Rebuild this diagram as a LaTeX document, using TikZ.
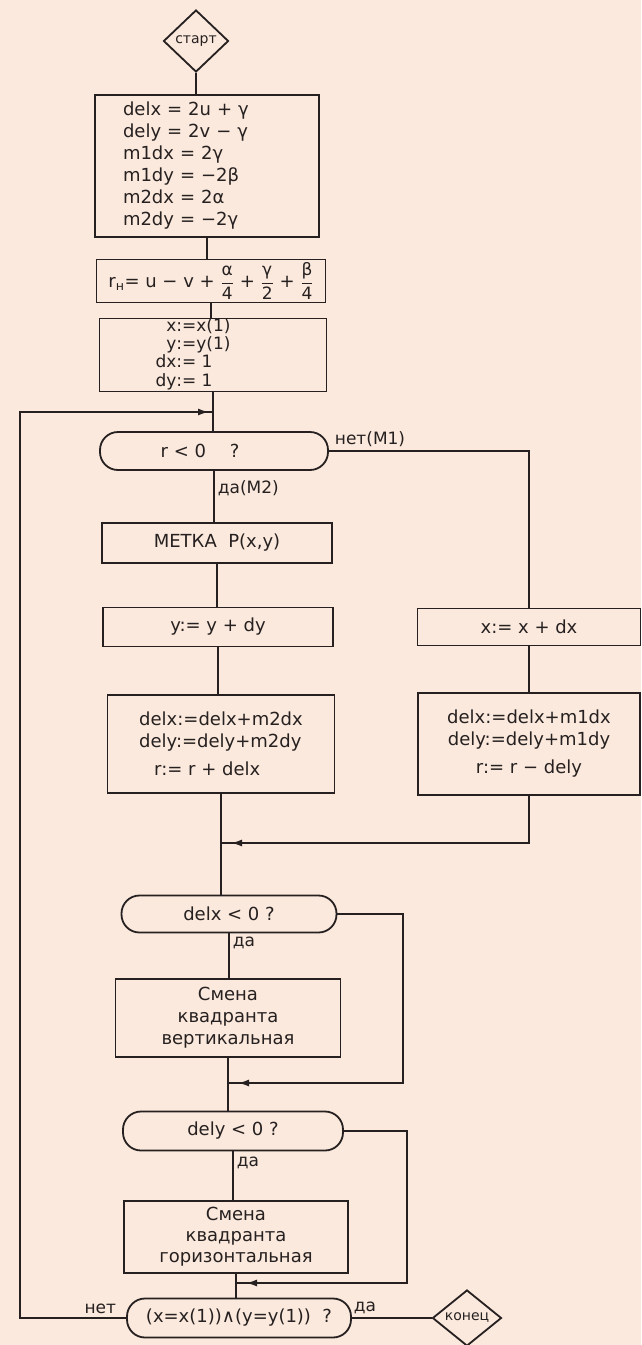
\documentclass[tikz,border=0pt]{standalone}
\usepackage{amsmath}
\usepackage{fontspec}
\setmainfont{DejaVu Sans}
\usepackage{tikz}
\usepackage{xcolor}
\usetikzlibrary{shapes.geometric,arrows.meta,decorations.markings}

\definecolor{bumaga}{RGB}{250,233,220}
\definecolor{tush}{RGB}{38,32,32}

\newcommand{\drob}[2]{$\dfrac{\hbox{\fontsize{17}{17}\selectfont #1}}{\hbox{\fontsize{17}{17}\selectfont #2}}$}

\begin{document}
\begin{tikzpicture}[
    x=1pt, y=-1pt,
    line width=1.8pt,
    color=tush,
    blok/.style={rectangle, draw, inner sep=0pt,
      font=\fontsize{18}{22}\selectfont},
    vopros/.style={rectangle, draw, rounded corners=18pt, inner sep=0pt,
      font=\fontsize{18}{22}\selectfont},
    romb/.style={diamond, draw, inner sep=0pt,
      font=\fontsize{14}{16}\selectfont},
    podpis/.style={inner sep=1pt, font=\fontsize{17}{20}\selectfont},
    strelka/.style={postaction={decorate},
      decoration={markings,
        mark=at position #1 with {\arrow{Latex[length=11pt,width=7pt]}}}}
  ]
\fill[bumaga] (0,0) rectangle (641,1345);
\useasboundingbox (0,0) rectangle (641,1345);

\node[romb, minimum width=65pt, minimum height=62pt] (start) at (196,41) {старт};
\node[blok, minimum width=224pt, minimum height=142pt,
      text width=168pt, align=left] (init) at (207,166)
{delx = 2u + γ\\dely = 2v − γ\\m1dx = 2γ\\m1dy = −2β\\m2dx = 2α\\m2dy = −2γ};
\node[blok, minimum width=229pt, minimum height=43pt] (rn) at (211,281)
{r\textsubscript{н}= u − v + \drob{α}{4} + \drob{γ}{2} + \drob{β}{4}};
\node[blok, minimum width=227pt, minimum height=73pt,
      font=\fontsize{17}{17.5}\selectfont] (nach) at (213,355)
{\begin{tabular}{@{}r@{}l@{}}x&:=x(1)\\y&:=y(1)\\dx&:= 1\\dy&:= 1\end{tabular}\hspace*{40pt}};

\node[vopros, minimum width=228pt, minimum height=38pt] (r0) at (214,451) {r < 0 \quad ?\hspace*{28pt}};
\node[blok, minimum width=230pt, minimum height=40pt] (metka) at (217,543) {МЕТКА \ P(x,y)};
\node[blok, minimum width=230pt, minimum height=39pt] (shagy) at (218,627) {y:= y + dy};
\node[blok, minimum width=223pt, minimum height=37pt] (shagx) at (529,627) {x:= x + dx};
\node[blok, minimum width=227pt, minimum height=98pt, align=left] (izmy) at (221,744)
{delx:=delx+m2dx\\dely:=dely+m2dy\\[6pt]\hspace*{15pt}r:= r + delx};
\node[blok, minimum width=222pt, minimum height=102pt, align=center] (izmx) at (529,744)
{delx:=delx+m1dx\\dely:=dely+m1dy\\[6pt]r:= r − dely};

\node[vopros, minimum width=215pt, minimum height=37pt] (dx0) at (229,914) {delx < 0 ?};
\node[blok, minimum width=225pt, minimum height=78pt, align=center] (vert) at (228,1018)
{Смена\\квадранта\\вертикальная};
\node[vopros, minimum width=220pt, minimum height=39pt] (dy0) at (233,1131) {dely < 0 ?};
\node[blok, minimum width=224pt, minimum height=72pt, align=center,
      font=\fontsize{18}{21}\selectfont] (gor) at (236,1237)
{Смена\\квадранта\\горизонтальная};
\node[vopros, minimum width=224pt, minimum height=39pt] (konpr) at (239,1318) {(x=x(1))∧(y=y(1)) \ ?};
\node[romb, minimum width=69pt, minimum height=56pt] (konec) at (467,1318) {конец};

\coordinate (petlya) at (20,412);
\coordinate (sl0) at (213,412);
\coordinate (sl1) at (221,843);
\coordinate (obh1) at (403,1083);
\coordinate (sl2) at (228,1083);
\coordinate (obh2) at (407,1283);
\coordinate (sl3) at (236,1283);

\draw (start.south) -- (start.south |- init.north);
\draw (init.south) -- (init.south |- rn.north);
\draw (rn.south) -- (rn.south |- nach.north);
\draw (nach.south) -- (nach.south |- r0.north);
\draw (r0.south) -- (r0.south |- metka.north);
\draw (metka.south) -- (metka.south |- shagy.north);
\draw (shagy.south) -- (shagy.south |- izmy.north);
\draw (r0.east) -| (shagx.north);
\draw (shagx.south) -- (shagx.south |- izmx.north);
\draw (izmy.south) -- (izmy.south |- dx0.north);
\draw[strelka=-10pt] (izmx.south) |- (sl1);
\draw (dx0.south) -- (dx0.south |- vert.north);
\draw (vert.south) -- (vert.south |- dy0.north);
\draw[strelka=-10pt] (dx0.east) -| (obh1) -- (sl2);
\draw (dy0.south) -- (dy0.south |- gor.north);
\draw (gor.south) -- (gor.south |- konpr.north);
\draw[strelka=-10pt] (dy0.east) -| (obh2) -- (sl3);
\draw (konpr.east) -- (konec.west);
\draw[strelka=-4pt] (konpr.west) -| (petlya) -- (sl0);

\node[podpis, anchor=south west] (netm1) at (333,449) {нет(M1)};
\node[podpis, anchor=west] (dam2) at (216,488) {да(M2)};
\node[podpis, anchor=west] (da1) at (231,943) {да};
\node[podpis, anchor=west] (da2) at (235,1163) {да};
\node[podpis, anchor=south east] (net) at (118,1316) {нет};
\node[podpis, anchor=south west] (da3) at (352,1316) {да};
\end{tikzpicture}
\end{document}
